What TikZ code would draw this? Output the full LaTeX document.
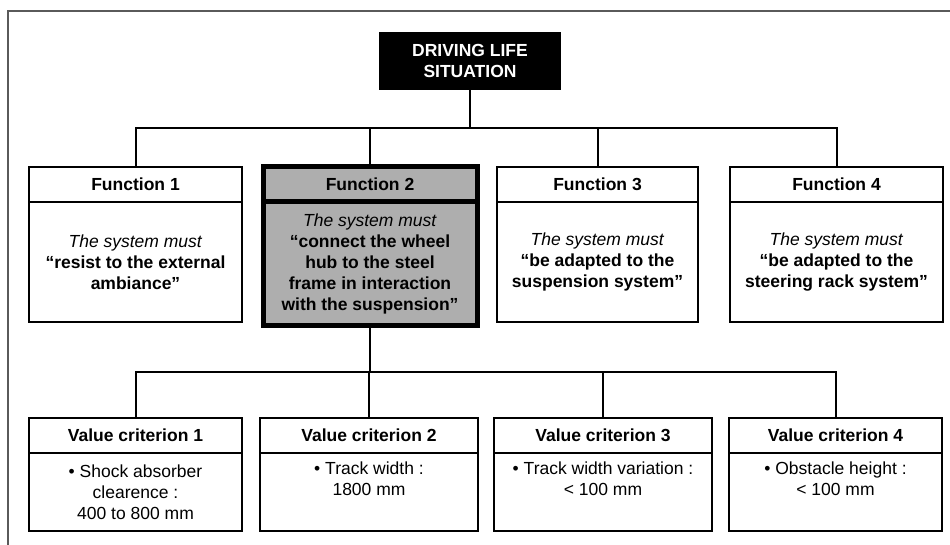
\documentclass[tikz,border=0pt]{standalone}
\usepackage{fontspec}
\setmainfont{Liberation Sans}
\newcommand\dgsize{\fontsize{17.5}{21}\selectfont}
\definecolor{framegray}{HTML}{5A5A5A}
\definecolor{boxgray}{HTML}{AEAEAE}
\begin{document}
\begin{tikzpicture}[x=1pt,y=-1pt,
  conn/.style={line width=2pt, black},
  cell/.style={draw, rectangle, line width=1.4pt, inner sep=0pt, align=center, font=\dgsize, fill=white},
  hdr/.style={cell, minimum height=35pt, font=\dgsize\bfseries},
  hot/.style={line width=5pt, fill=boxgray},
  topbox/.style={rectangle, fill=black, text=white, font=\dgsize\bfseries, align=center,
    minimum width=182pt, minimum height=58pt, inner sep=0pt}]
\useasboundingbox (0,0) rectangle (950,545);
% outer frame
\draw[framegray, line width=1.5pt] (8,546) -- (8,11) -- (951,11);

% top
\node[topbox] (top) at (470,61) {DRIVING LIFE\\SITUATION};

% functions
\node[hdr, minimum width=213pt] (f1h) at (135.5,184.5) {Function 1};
\node[cell, minimum width=213pt, minimum height=120pt] (f1b) at (135.5,262)
  {\textit{The system must}\\\textbf{“resist to the external}\\\textbf{ambiance”}};

\node[hdr, hot, minimum width=214pt] (f2h) at (370,184.5) {Function 2};
\node[cell, hot, minimum width=214pt, minimum height=123.5pt] (f2b) at (370,263.75)
  {\textit{The system must}\\\textbf{“connect the wheel}\\\textbf{hub to the steel}\\\textbf{frame in interaction}\\\textbf{with the suspension”}};

\node[hdr, minimum width=201pt] (f3h) at (597.5,184.5) {Function 3};
\node[cell, minimum width=201pt, minimum height=120pt] (f3b) at (597.5,262)
  {\textit{The system must}\\\textbf{“be adapted to the}\\\textbf{suspension system”}};

\node[hdr, minimum width=213pt] (f4h) at (836.5,184.5) {Function 4};
\node[cell, minimum width=213pt, minimum height=120pt] (f4b) at (836.5,262)
  {\textit{The system must}\\\textbf{“be adapted to the}\\\textbf{steering rack system”}};

% value criteria
\node[hdr, minimum width=213pt] (v1h) at (135.5,435.5) {Value criterion 1};
\node[cell, minimum width=213pt, minimum height=78pt] (v1b) at (135.5,492)
  {• Shock absorber\\clearence :\\400 to 800 mm};

\node[hdr, minimum width=218pt] (v2h) at (369,435.5) {Value criterion 2};
\node[cell, minimum width=218pt, minimum height=78pt] (v2b) at (369,492)
  {• Track width :\\1800 mm\\\strut};

\node[hdr, minimum width=218pt] (v3h) at (603,435.5) {Value criterion 3};
\node[cell, minimum width=218pt, minimum height=78pt] (v3b) at (603,492)
  {• Track width variation :\\< 100 mm\\\strut};

\node[hdr, minimum width=213pt] (v4h) at (835.5,435.5) {Value criterion 4};
\node[cell, minimum width=213pt, minimum height=78pt] (v4b) at (835.5,492)
  {• Obstacle height :\\< 100 mm\\\strut};

% connectors, upper level
\coordinate (bus1) at (470,128);
\draw[conn] (top.south) -- (bus1);
\draw[conn] (f1h.north) -- (f1h.north |- bus1) -- (f4h.north |- bus1) -- (f4h.north);
\draw[conn] (f2h.north) -- (f2h.north |- bus1);
\draw[conn] (f3h.north) -- (f3h.north |- bus1);

% connectors, lower level
\coordinate (bus2) at (369,372);
\draw[conn] (f2b.south) -- (f2b.south |- bus2);
\draw[conn] (v1h.north) -- (v1h.north |- bus2) -- (v4h.north |- bus2) -- (v4h.north);
\draw[conn] (v2h.north) -- (v2h.north |- bus2);
\draw[conn] (v3h.north) -- (v3h.north |- bus2);
\end{tikzpicture}
\end{document}
